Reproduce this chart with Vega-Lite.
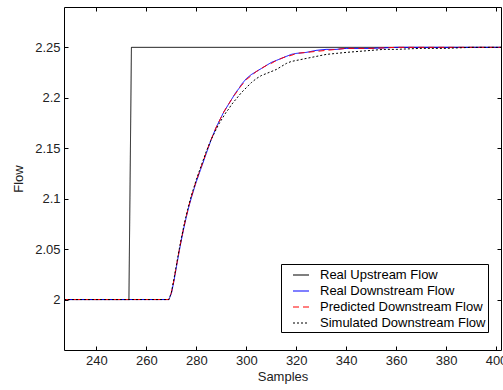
{
  "$schema": "https://vega.github.io/schema/vega-lite/v6.json",
  "width": 437,
  "height": 343,
  "autosize": {"type": "none"},
  "padding": {"left": 64, "top": 7, "right": 2, "bottom": 40},
  "background": "#ffffff",
  "config": {
    "view": {"stroke": null},
    "axis": {
      "domainColor": "#000000",
      "tickColor": "#000000",
      "tickSize": -4,
      "labelPadding": 8,
      "labelFont": "Liberation Sans",
      "labelFontSize": 13,
      "labelColor": "#222222",
      "labelFlush": false,
      "labelOverlap": false,
      "titleFont": "Liberation Sans",
      "titleFontSize": 13,
      "titleFontWeight": "normal",
      "titleColor": "#222222",
      "grid": false
    }
  },
  "datasets": {
    "flow": [
      {"s": "Real Upstream Flow", "x": 227, "y": 2.0},
      {"s": "Real Upstream Flow", "x": 253, "y": 2.0},
      {"s": "Real Upstream Flow", "x": 254, "y": 2.25},
      {"s": "Real Upstream Flow", "x": 402, "y": 2.25},

      {"s": "Real Downstream Flow", "x": 227, "y": 2.0},
      {"s": "Real Downstream Flow", "x": 269, "y": 2.0},
      {"s": "Real Downstream Flow", "x": 270, "y": 2.006},
      {"s": "Real Downstream Flow", "x": 271, "y": 2.018},
      {"s": "Real Downstream Flow", "x": 272, "y": 2.032},
      {"s": "Real Downstream Flow", "x": 273, "y": 2.046},
      {"s": "Real Downstream Flow", "x": 274, "y": 2.059},
      {"s": "Real Downstream Flow", "x": 275, "y": 2.071},
      {"s": "Real Downstream Flow", "x": 276, "y": 2.082},
      {"s": "Real Downstream Flow", "x": 277, "y": 2.092},
      {"s": "Real Downstream Flow", "x": 278, "y": 2.101},
      {"s": "Real Downstream Flow", "x": 279, "y": 2.109},
      {"s": "Real Downstream Flow", "x": 280, "y": 2.117},
      {"s": "Real Downstream Flow", "x": 281, "y": 2.124},
      {"s": "Real Downstream Flow", "x": 282, "y": 2.131},
      {"s": "Real Downstream Flow", "x": 283, "y": 2.138},
      {"s": "Real Downstream Flow", "x": 284, "y": 2.145},
      {"s": "Real Downstream Flow", "x": 285, "y": 2.152},
      {"s": "Real Downstream Flow", "x": 286, "y": 2.159},
      {"s": "Real Downstream Flow", "x": 287, "y": 2.165},
      {"s": "Real Downstream Flow", "x": 288, "y": 2.171},
      {"s": "Real Downstream Flow", "x": 289, "y": 2.176},
      {"s": "Real Downstream Flow", "x": 290, "y": 2.181},
      {"s": "Real Downstream Flow", "x": 291, "y": 2.186},
      {"s": "Real Downstream Flow", "x": 292, "y": 2.19},
      {"s": "Real Downstream Flow", "x": 293, "y": 2.194},
      {"s": "Real Downstream Flow", "x": 294, "y": 2.198},
      {"s": "Real Downstream Flow", "x": 295, "y": 2.202},
      {"s": "Real Downstream Flow", "x": 296, "y": 2.206},
      {"s": "Real Downstream Flow", "x": 297, "y": 2.209},
      {"s": "Real Downstream Flow", "x": 298, "y": 2.213},
      {"s": "Real Downstream Flow", "x": 299, "y": 2.216},
      {"s": "Real Downstream Flow", "x": 300, "y": 2.219},
      {"s": "Real Downstream Flow", "x": 302, "y": 2.223},
      {"s": "Real Downstream Flow", "x": 304, "y": 2.226},
      {"s": "Real Downstream Flow", "x": 306, "y": 2.229},
      {"s": "Real Downstream Flow", "x": 308, "y": 2.232},
      {"s": "Real Downstream Flow", "x": 310, "y": 2.235},
      {"s": "Real Downstream Flow", "x": 312, "y": 2.237},
      {"s": "Real Downstream Flow", "x": 314, "y": 2.239},
      {"s": "Real Downstream Flow", "x": 316, "y": 2.241},
      {"s": "Real Downstream Flow", "x": 318, "y": 2.243},
      {"s": "Real Downstream Flow", "x": 320, "y": 2.244},
      {"s": "Real Downstream Flow", "x": 324, "y": 2.245},
      {"s": "Real Downstream Flow", "x": 328, "y": 2.247},
      {"s": "Real Downstream Flow", "x": 332, "y": 2.248},
      {"s": "Real Downstream Flow", "x": 336, "y": 2.248},
      {"s": "Real Downstream Flow", "x": 340, "y": 2.249},
      {"s": "Real Downstream Flow", "x": 350, "y": 2.249},
      {"s": "Real Downstream Flow", "x": 360, "y": 2.25},
      {"s": "Real Downstream Flow", "x": 402, "y": 2.25},

      {"s": "Predicted Downstream Flow", "x": 227, "y": 2.0},
      {"s": "Predicted Downstream Flow", "x": 269, "y": 2.0},
      {"s": "Predicted Downstream Flow", "x": 270, "y": 2.007},
      {"s": "Predicted Downstream Flow", "x": 271, "y": 2.019},
      {"s": "Predicted Downstream Flow", "x": 272, "y": 2.033},
      {"s": "Predicted Downstream Flow", "x": 273, "y": 2.047},
      {"s": "Predicted Downstream Flow", "x": 274, "y": 2.06},
      {"s": "Predicted Downstream Flow", "x": 275, "y": 2.072},
      {"s": "Predicted Downstream Flow", "x": 276, "y": 2.083},
      {"s": "Predicted Downstream Flow", "x": 277, "y": 2.093},
      {"s": "Predicted Downstream Flow", "x": 278, "y": 2.102},
      {"s": "Predicted Downstream Flow", "x": 279, "y": 2.11},
      {"s": "Predicted Downstream Flow", "x": 280, "y": 2.118},
      {"s": "Predicted Downstream Flow", "x": 281, "y": 2.125},
      {"s": "Predicted Downstream Flow", "x": 282, "y": 2.132},
      {"s": "Predicted Downstream Flow", "x": 283, "y": 2.139},
      {"s": "Predicted Downstream Flow", "x": 284, "y": 2.146},
      {"s": "Predicted Downstream Flow", "x": 285, "y": 2.153},
      {"s": "Predicted Downstream Flow", "x": 286, "y": 2.159},
      {"s": "Predicted Downstream Flow", "x": 287, "y": 2.165},
      {"s": "Predicted Downstream Flow", "x": 288, "y": 2.171},
      {"s": "Predicted Downstream Flow", "x": 289, "y": 2.176},
      {"s": "Predicted Downstream Flow", "x": 290, "y": 2.181},
      {"s": "Predicted Downstream Flow", "x": 291, "y": 2.186},
      {"s": "Predicted Downstream Flow", "x": 292, "y": 2.19},
      {"s": "Predicted Downstream Flow", "x": 293, "y": 2.194},
      {"s": "Predicted Downstream Flow", "x": 294, "y": 2.198},
      {"s": "Predicted Downstream Flow", "x": 295, "y": 2.202},
      {"s": "Predicted Downstream Flow", "x": 296, "y": 2.205},
      {"s": "Predicted Downstream Flow", "x": 297, "y": 2.209},
      {"s": "Predicted Downstream Flow", "x": 298, "y": 2.212},
      {"s": "Predicted Downstream Flow", "x": 299, "y": 2.215},
      {"s": "Predicted Downstream Flow", "x": 300, "y": 2.218},
      {"s": "Predicted Downstream Flow", "x": 302, "y": 2.222},
      {"s": "Predicted Downstream Flow", "x": 304, "y": 2.226},
      {"s": "Predicted Downstream Flow", "x": 306, "y": 2.229},
      {"s": "Predicted Downstream Flow", "x": 308, "y": 2.232},
      {"s": "Predicted Downstream Flow", "x": 310, "y": 2.234},
      {"s": "Predicted Downstream Flow", "x": 312, "y": 2.237},
      {"s": "Predicted Downstream Flow", "x": 314, "y": 2.239},
      {"s": "Predicted Downstream Flow", "x": 316, "y": 2.241},
      {"s": "Predicted Downstream Flow", "x": 318, "y": 2.242},
      {"s": "Predicted Downstream Flow", "x": 320, "y": 2.244},
      {"s": "Predicted Downstream Flow", "x": 324, "y": 2.245},
      {"s": "Predicted Downstream Flow", "x": 328, "y": 2.246},
      {"s": "Predicted Downstream Flow", "x": 332, "y": 2.247},
      {"s": "Predicted Downstream Flow", "x": 336, "y": 2.248},
      {"s": "Predicted Downstream Flow", "x": 340, "y": 2.249},
      {"s": "Predicted Downstream Flow", "x": 350, "y": 2.249},
      {"s": "Predicted Downstream Flow", "x": 360, "y": 2.25},
      {"s": "Predicted Downstream Flow", "x": 402, "y": 2.25},

      {"s": "Simulated Downstream Flow", "x": 227, "y": 2.0},
      {"s": "Simulated Downstream Flow", "x": 269, "y": 2.0},
      {"s": "Simulated Downstream Flow", "x": 270, "y": 2.007},
      {"s": "Simulated Downstream Flow", "x": 271, "y": 2.02},
      {"s": "Simulated Downstream Flow", "x": 272, "y": 2.034},
      {"s": "Simulated Downstream Flow", "x": 273, "y": 2.048},
      {"s": "Simulated Downstream Flow", "x": 274, "y": 2.061},
      {"s": "Simulated Downstream Flow", "x": 275, "y": 2.073},
      {"s": "Simulated Downstream Flow", "x": 276, "y": 2.084},
      {"s": "Simulated Downstream Flow", "x": 277, "y": 2.094},
      {"s": "Simulated Downstream Flow", "x": 278, "y": 2.103},
      {"s": "Simulated Downstream Flow", "x": 279, "y": 2.111},
      {"s": "Simulated Downstream Flow", "x": 280, "y": 2.119},
      {"s": "Simulated Downstream Flow", "x": 281, "y": 2.126},
      {"s": "Simulated Downstream Flow", "x": 282, "y": 2.133},
      {"s": "Simulated Downstream Flow", "x": 283, "y": 2.14},
      {"s": "Simulated Downstream Flow", "x": 284, "y": 2.147},
      {"s": "Simulated Downstream Flow", "x": 285, "y": 2.153},
      {"s": "Simulated Downstream Flow", "x": 286, "y": 2.159},
      {"s": "Simulated Downstream Flow", "x": 287, "y": 2.164},
      {"s": "Simulated Downstream Flow", "x": 288, "y": 2.169},
      {"s": "Simulated Downstream Flow", "x": 289, "y": 2.174},
      {"s": "Simulated Downstream Flow", "x": 290, "y": 2.178},
      {"s": "Simulated Downstream Flow", "x": 291, "y": 2.182},
      {"s": "Simulated Downstream Flow", "x": 292, "y": 2.186},
      {"s": "Simulated Downstream Flow", "x": 293, "y": 2.189},
      {"s": "Simulated Downstream Flow", "x": 294, "y": 2.193},
      {"s": "Simulated Downstream Flow", "x": 295, "y": 2.196},
      {"s": "Simulated Downstream Flow", "x": 296, "y": 2.199},
      {"s": "Simulated Downstream Flow", "x": 297, "y": 2.202},
      {"s": "Simulated Downstream Flow", "x": 298, "y": 2.205},
      {"s": "Simulated Downstream Flow", "x": 300, "y": 2.21},
      {"s": "Simulated Downstream Flow", "x": 302, "y": 2.215},
      {"s": "Simulated Downstream Flow", "x": 304, "y": 2.219},
      {"s": "Simulated Downstream Flow", "x": 306, "y": 2.222},
      {"s": "Simulated Downstream Flow", "x": 308, "y": 2.224},
      {"s": "Simulated Downstream Flow", "x": 310, "y": 2.226},
      {"s": "Simulated Downstream Flow", "x": 312, "y": 2.228},
      {"s": "Simulated Downstream Flow", "x": 314, "y": 2.231},
      {"s": "Simulated Downstream Flow", "x": 316, "y": 2.234},
      {"s": "Simulated Downstream Flow", "x": 318, "y": 2.236},
      {"s": "Simulated Downstream Flow", "x": 320, "y": 2.237},
      {"s": "Simulated Downstream Flow", "x": 324, "y": 2.239},
      {"s": "Simulated Downstream Flow", "x": 328, "y": 2.241},
      {"s": "Simulated Downstream Flow", "x": 332, "y": 2.243},
      {"s": "Simulated Downstream Flow", "x": 336, "y": 2.244},
      {"s": "Simulated Downstream Flow", "x": 340, "y": 2.245},
      {"s": "Simulated Downstream Flow", "x": 345, "y": 2.246},
      {"s": "Simulated Downstream Flow", "x": 350, "y": 2.247},
      {"s": "Simulated Downstream Flow", "x": 355, "y": 2.248},
      {"s": "Simulated Downstream Flow", "x": 360, "y": 2.248},
      {"s": "Simulated Downstream Flow", "x": 370, "y": 2.249},
      {"s": "Simulated Downstream Flow", "x": 380, "y": 2.249},
      {"s": "Simulated Downstream Flow", "x": 390, "y": 2.25},
      {"s": "Simulated Downstream Flow", "x": 402, "y": 2.25}
    ]
  },
  "data": {"name": "flow"},
  "layer": [
    {
      "transform": [{"filter": "datum.s === 'Real Upstream Flow'"}],
      "mark": {"type": "line", "strokeWidth": 1, "clip": true},
      "encoding": {
        "x": {"field": "x", "type": "quantitative", "scale": {"domain": [227, 402], "nice": false, "zero": false},
              "axis": {"orient": "bottom", "values": [240, 260, 280, 300, 320, 340, 360, 380, 400], "title": "Samples", "titlePadding": 3}},
        "y": {"field": "y", "type": "quantitative", "scale": {"domain": [1.95, 2.29], "nice": false, "zero": false},
              "axis": {"orient": "left", "values": [2, 2.05, 2.1, 2.15, 2.2, 2.25], "format": ".2~f", "title": "Flow", "titlePadding": 9}},
        "color": {"field": "s", "type": "nominal",
                  "scale": {"domain": ["Real Upstream Flow", "Real Downstream Flow", "Predicted Downstream Flow", "Simulated Downstream Flow"], "range": ["#000000", "#0000ff", "#ff0000", "#000000"]},
                  "legend": {"orient": "none", "legendX": 217, "legendY": 257, "title": null, "padding": 2, "strokeColor": "#000000", "fillColor": "#ffffff",
                             "symbolType": "stroke", "symbolSize": 256, "symbolStrokeWidth": 1.2, "symbolOffset": 9, "labelOffset": 10,
                             "labelFontSize": 13, "labelFont": "Liberation Sans", "labelColor": "#000000", "rowPadding": 0, "labelLimit": 300,
                             "labelExpr": "datum.label + '   '"}},
        "strokeDash": {"field": "s", "type": "nominal",
                  "scale": {"domain": ["Real Upstream Flow", "Real Downstream Flow", "Predicted Downstream Flow", "Simulated Downstream Flow"], "range": [[1, 0], [1, 0], [6, 4], [2, 2]]},
                  "legend": {"orient": "none", "legendX": 217, "legendY": 257, "title": null, "padding": 2, "strokeColor": "#000000", "fillColor": "#ffffff",
                             "symbolType": "stroke", "symbolSize": 256, "symbolStrokeWidth": 1.2, "symbolOffset": 9, "labelOffset": 10,
                             "labelFontSize": 13, "labelFont": "Liberation Sans", "labelColor": "#000000", "rowPadding": 0, "labelLimit": 300,
                             "labelExpr": "datum.label + '   '"}}
      }
    },
    {
      "transform": [{"filter": "datum.s === 'Real Downstream Flow'"}],
      "mark": {"type": "line", "strokeWidth": 1, "clip": true},
      "encoding": {
        "x": {"field": "x", "type": "quantitative", "axis": null},
        "y": {"field": "y", "type": "quantitative", "axis": null},
        "color": {"field": "s", "type": "nominal"},
        "strokeDash": {"field": "s", "type": "nominal"}
      }
    },
    {
      "transform": [{"filter": "datum.s === 'Predicted Downstream Flow'"}],
      "mark": {"type": "line", "strokeWidth": 1, "clip": true},
      "encoding": {
        "x": {"field": "x", "type": "quantitative", "axis": null},
        "y": {"field": "y", "type": "quantitative", "axis": null},
        "color": {"field": "s", "type": "nominal"},
        "strokeDash": {"field": "s", "type": "nominal"}
      }
    },
    {
      "transform": [{"filter": "datum.s === 'Simulated Downstream Flow'"}],
      "mark": {"type": "line", "strokeWidth": 1, "clip": true},
      "encoding": {
        "x": {"field": "x", "type": "quantitative", "axis": null},
        "y": {"field": "y", "type": "quantitative", "axis": null},
        "color": {"field": "s", "type": "nominal"},
        "strokeDash": {"field": "s", "type": "nominal"}
      }
    },
    {
      "transform": [{"filter": "datum.s === 'Real Upstream Flow'"}],
      "mark": {"type": "line", "strokeOpacity": 0, "clip": true},
      "encoding": {
        "x": {"field": "x", "type": "quantitative",
              "axis": {"orient": "top", "values": [240, 260, 280, 300, 320, 340, 360, 380, 400], "labels": false, "title": null}},
        "y": {"field": "y", "type": "quantitative",
              "axis": {"orient": "right", "values": [2, 2.05, 2.1, 2.15, 2.2, 2.25], "labels": false, "title": null}}
      }
    }
  ],
  "resolve": {"axis": {"x": "independent", "y": "independent"}}
}
